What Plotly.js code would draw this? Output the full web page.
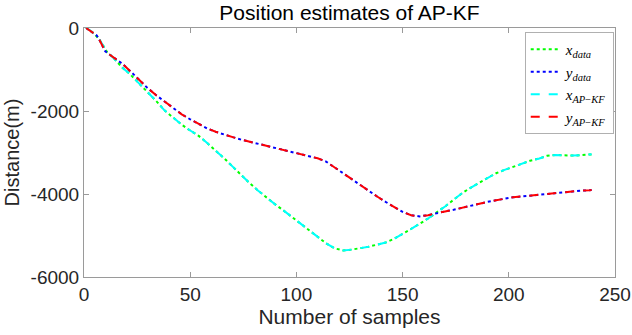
<!DOCTYPE html>
<html>
<head>
<meta charset="utf-8">
<script src="https://cdn.plot.ly/plotly-3.0.1.min.js"></script>
<style>html,body{margin:0;padding:0;background:#fff;}#chart{width:632px;height:335px;}</style>
</head>
<body>
<div id="chart"></div>
<script>
const samplesX = [1,3,5,7,9,11,14,18,22,26,30,34,38,42,46,50,54,58,62,66,70,74,78,82,86,90,94,98,102,106,110,114,118,122,126,130,134,138,142,146,150,154,158,162,166,170,174,178,182,186,190,194,198,202,206,210,214,218,222,226,230,234,238,239];
const xData = [0,-60,-150,-260,-420,-590,-730,-950,-1130,-1340,-1540,-1760,-1990,-2170,-2330,-2470,-2600,-2770,-2950,-3140,-3340,-3550,-3740,-3920,-4090,-4250,-4400,-4560,-4720,-4880,-5030,-5190,-5310,-5360,-5340,-5310,-5270,-5220,-5170,-5080,-4960,-4860,-4720,-4590,-4450,-4300,-4140,-3980,-3850,-3730,-3620,-3500,-3420,-3350,-3270,-3200,-3150,-3080,-3060,-3070,-3075,-3065,-3050,-3045];

const samplesY = [1,3,5,6,7,8,9,10,12,15,18,22,26,30,34,38,42,46,50,54,58,62,66,70,74,78,82,86,90,94,98,102,106,110,114,118,122,126,130,134,138,142,146,150,154,158,162,166,170,174,178,182,186,190,194,198,202,206,210,214,218,222,226,230,234,238,239];
const yData = [0,-70,-140,-180,-260,-350,-460,-560,-640,-740,-860,-1050,-1250,-1450,-1620,-1780,-1940,-2080,-2200,-2310,-2420,-2500,-2570,-2630,-2690,-2740,-2790,-2840,-2890,-2930,-2980,-3030,-3080,-3140,-3220,-3360,-3520,-3660,-3790,-3920,-4060,-4190,-4320,-4430,-4510,-4540,-4510,-4460,-4420,-4380,-4330,-4290,-4240,-4190,-4150,-4110,-4080,-4060,-4040,-4020,-4000,-3970,-3955,-3935,-3920,-3910,-3905];

// AP-KF estimates coincide with the data at this resolution
const xKF = xData.slice();
const yKF = yData.slice();

const xTicks = [0,50,100,150,200,250];
const yTicks = [0,-2000,-4000,-6000];
const yTickText = ['0','-2000','-4000','-6000'];

const names = [
  '<i>x</i><sub><i>data</i></sub>',
  '<i>y</i><sub><i>data</i></sub>',
  '<i>x</i><sub><i>AP</i>\u2212<i>KF</i></sub>',
  '<i>y</i><sub><i>AP</i>\u2212<i>KF</i></sub>'
];

const traces = [
  {x: samplesX, y: xData, name: names[0], mode: 'lines', line: {color: '#00ff00', width: 2, dash: 'dot'}},
  {x: samplesY, y: yData, name: names[1], mode: 'lines', line: {color: '#0000ff', width: 2, dash: 'dot'}},
  {x: samplesX, y: xKF, name: names[2], mode: 'lines', line: {color: '#00ffff', width: 2, dash: 'dash'}},
  {x: samplesY, y: yKF, name: names[3], mode: 'lines', line: {color: '#ff0000', width: 2, dash: 'dash'}}
];

const sans = 'Liberation Sans, Arial, sans-serif';
const axisCommon = {
  showline: true, mirror: 'ticks', linecolor: '#9a9a9a', linewidth: 1,
  ticks: 'inside', ticklen: 5, tickcolor: '#9a9a9a',
  showgrid: false, zeroline: false,
  tickfont: {family: sans, size: 19, color: '#262626'}
};

const layout = {
  width: 632, height: 335,
  margin: {l: 84, r: 17, t: 28, b: 58},
  paper_bgcolor: '#ffffff', plot_bgcolor: '#ffffff',
  title: {text: 'Position estimates of AP-KF', x: 0.553, xanchor: 'center', y: 0.962, yanchor: 'middle',
          font: {family: sans, size: 21, color: '#000000'}},
  xaxis: Object.assign({}, axisCommon, {
    range: [0, 250], tickvals: xTicks, ticktext: xTicks.map(String),
    title: {text: 'Number of samples', standoff: 3, font: {family: sans, size: 21, color: '#262626'}}
  }),
  yaxis: Object.assign({}, axisCommon, {
    range: [-6000, 0], tickvals: yTicks, ticktext: yTickText,
    title: {text: 'Distance(m)', standoff: 5, font: {family: sans, size: 20, color: '#262626'}}
  }),
  showlegend: true,
  legend: {x: 0.83, y: 0.984, xanchor: 'left', yanchor: 'top',
           bgcolor: '#ffffff', bordercolor: '#b0b0b0', borderwidth: 1,
           itemwidth: 30, tracegroupgap: 0,
           font: {family: 'Liberation Serif, Times New Roman, serif', size: 15, color: '#000000'}}
};

Plotly.newPlot('chart', traces, layout, {displayModeBar: false, staticPlot: true});
</script>
</body>
</html>
